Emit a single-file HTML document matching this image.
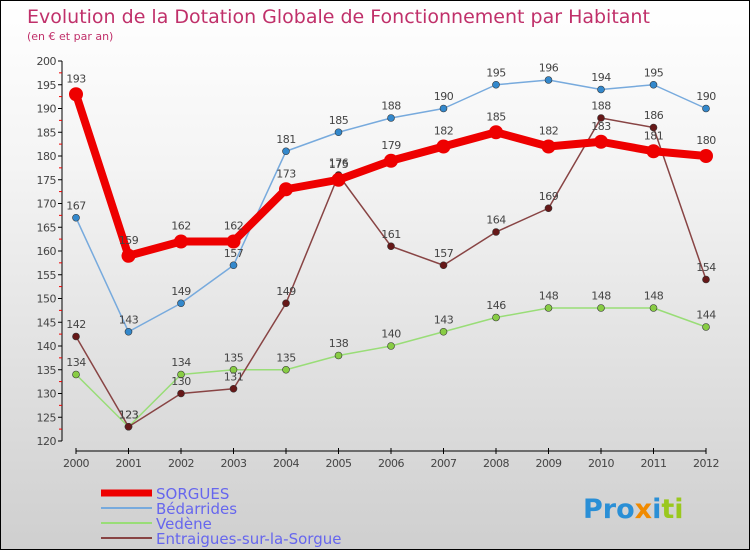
<!DOCTYPE html>
<html><head><meta charset="utf-8"><style>
body{margin:0}
#c{position:relative;width:748px;height:548px;border:1px solid #000;background:linear-gradient(#fff 0%,#f4f4f4 30%,#cfcfcf 100%);overflow:hidden;font-family:"DejaVu Sans","Liberation Sans",sans-serif}
text{font-family:"DejaVu Sans","Liberation Sans",sans-serif}
</style></head><body>
<div id="c">
<svg id="s" width="748" height="548" xmlns="http://www.w3.org/2000/svg">
<text x="26" y="22" font-size="19" fill="#c0306a">Evolution de la Dotation Globale de Fonctionnement par Habitant</text>
<text x="26" y="39" font-size="11" fill="#c0306a">(en € et par an)</text>
<g id="axes"></g><g id="series"></g><g id="legend"></g>
<text x="582" y="517" font-size="27" font-weight="bold"><tspan fill="#2a8fd6">Pro</tspan><tspan fill="#f08a00">x</tspan><tspan fill="#2a8fd6">i</tspan><tspan fill="#9ac81e">ti</tspan></text>
</svg>
</div>
<script>
const years=["2000","2001","2002","2003","2004","2005","2006","2007","2008","2009","2010","2011","2012"];
const yTicks=[120,125,130,135,140,145,150,155,160,165,170,175,180,185,190,195,200];
const sorgues=[193,159,162,162,173,175,179,182,185,182,183,181,180];
const bedarrides=[167,143,149,157,181,185,188,190,195,196,194,195,190];
const vedene=[134,123,134,135,135,138,140,143,146,148,148,148,144];
const entraigues=[142,123,130,131,149,176,161,157,164,169,188,186,154];
const NS="http://www.w3.org/2000/svg";
const xs=i=>75+i*52.5, ys=v=>60+(200-v)*4.75;
function mk(t,a,p){const e=document.createElementNS(NS,t);for(const k in a)e.setAttribute(k,a[k]);p.appendChild(e);return e;}
const ax=document.getElementById('axes');
let l=mk('line',{x1:61,y1:60,x2:61,y2:440,stroke:'#000'},ax);


l=mk('line',{x1:75,y1:450,x2:705,y2:450,stroke:'#000'},ax);


yTicks.forEach(v=>{
 const y=ys(v);
 mk('line',{x1:57,y1:y,x2:61,y2:y,stroke:'#000'},ax);
 if(v<200) mk('line',{x1:58,y1:y-11.9,x2:61,y2:y-11.9,stroke:'#e00'},ax);
 const t=mk('text',{x:55,y:y+4,'font-size':11,fill:'#444','text-anchor':'end','letter-spacing':'-0.5'},ax);
 t.textContent=v;
 
 
});
years.forEach((yr,i)=>{
 const x=xs(i);
 mk('line',{x1:x,y1:447,x2:x,y2:453,stroke:'#000'},ax);
 const t=mk('text',{x:x,y:466,'font-size':11,fill:'#444','text-anchor':'middle','letter-spacing':'-0.5'},ax);
 t.textContent=yr;
 
 
});
const sg=document.getElementById('series');
const defs=[
 {d:vedene,c:'#99dd77',pc:'#88cc44',w:1.5,r:3.5,n:'vedene'},
 {d:entraigues,c:'#884444',pc:'#661818',w:1.5,r:3.5,n:'entraigues'},
 {d:bedarrides,c:'#77aadd',pc:'#3388cc',w:1.5,r:3.5,n:'bedarrides'},
 {d:sorgues,c:'#ee0000',pc:'#ee0000',w:8,r:7,n:'sorgues'}];
defs.forEach(s=>{
 const g=mk('g',{},sg);
 
 
 const p=mk('polyline',{points:s.d.map((v,i)=>xs(i)+','+ys(v)).join(' '),fill:'none',stroke:s.c,'stroke-width':s.w,'stroke-linejoin':'round'},g);
 
 
 s.d.forEach((v,i)=>{
  const c=mk('circle',{cx:xs(i),cy:ys(v),r:s.r,fill:s.pc,stroke:'#333','stroke-width':s.r>5?0:0.6},g);
  
  
  const t=mk('text',{x:xs(i),y:ys(v)-(s.r+5),'font-size':11,fill:'#444','text-anchor':'middle','letter-spacing':'-0.5'},g);
  t.textContent=v;
  
  
 });
});
const lg=document.getElementById('legend');
const items=[['SORGUES','#ee0000',7],['Bédarrides','#77aadd',2],['Vedène','#99dd77',2],['Entraigues-sur-la-Sorgue','#884444',2]];
items.forEach((it,i)=>{
 const y=492+i*15;
 const ln=mk('line',{x1:100,y1:y,x2:151,y2:y,stroke:it[1],'stroke-width':it[2]},lg);
 
 
 const t=mk('text',{x:155,y:y+6,'font-size':15,fill:'#6666ee'},lg);
 t.textContent=it[0];
 
 
});
</script>
</body></html>
